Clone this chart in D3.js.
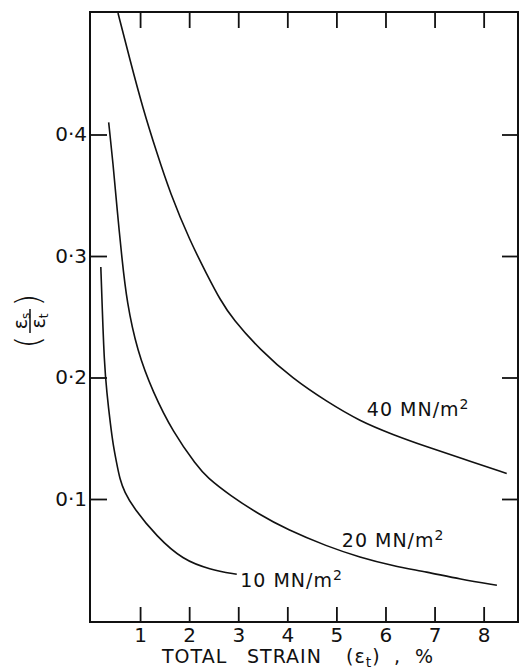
<!DOCTYPE html>
<meta charset="utf-8">
<head>
<style>
  body { margin: 0; background: #fff; }
  text { font-family: "DejaVu Sans", sans-serif; fill: #111; }
  .curve { fill: none; stroke: #111; stroke-width: 1.6; }
  .frame { fill: none; stroke: #111; stroke-width: 2; }
  .tick line { stroke: #111; stroke-width: 1.8; }
  .domain { display: none; }
</style>
</head>
<body>
<svg width="519" height="669" id="svg1"></svg>
<script src="https://cdnjs.cloudflare.com/ajax/libs/d3/7.8.5/d3.min.js"></script>
<script>
// total strain (%) vs ratio eps_s / eps_t
const strain40 = [0.55, 0.79, 1.06, 1.34, 1.61, 2.02, 2.36, 2.63, 2.89, 3.44, 4.11, 4.81, 5.48, 6.15, 6.84, 7.58, 8.47];
const ratio40  = [0.500, 0.462, 0.421, 0.385, 0.352, 0.312, 0.285, 0.264, 0.248, 0.223, 0.199, 0.180, 0.164, 0.153, 0.143, 0.133, 0.121];

const strain20 = [0.36, 0.45, 0.53, 0.63, 0.73, 0.94, 1.26, 1.67, 2.16, 2.36, 2.83, 3.44, 3.99, 4.81, 5.48, 6.15, 6.84, 7.52, 8.27];
const ratio20  = [0.410, 0.376, 0.339, 0.298, 0.262, 0.222, 0.188, 0.155, 0.127, 0.118, 0.103, 0.087, 0.075, 0.061, 0.052, 0.045, 0.040, 0.034, 0.029];

const strain10 = [0.20, 0.23, 0.27, 0.32, 0.40, 0.45, 0.52, 0.59, 0.68, 0.86, 1.34, 1.87, 2.42, 2.97];
const ratio10  = [0.291, 0.256, 0.213, 0.188, 0.160, 0.145, 0.130, 0.116, 0.106, 0.093, 0.069, 0.050, 0.042, 0.038];

const curveNames = ["40", "20", "10"];
const labelStrain = [5.62, 5.11, 3.04];
const labelRatio  = [0.168, 0.0604, 0.0275];

const xTicks = [1, 2, 3, 4, 5, 6, 7, 8];
const yTicks = [0.1, 0.2, 0.3, 0.4];

const svg1 = d3.select('#svg1');

const x = d3.scaleLinear().domain([0, 8.7]).range([91, 518]);
const y = d3.scaleLinear().domain([0, 0.5]).range([620.5, 13]);

const fmt = d => d3.format('.1f')(d).replace('.', '\u00B7');

// frame
svg1.append('rect')
    .attr('class', 'frame')
    .attr('x', 90).attr('y', 12)
    .attr('width', 428).attr('height', 610);

// bottom ticks + labels
svg1.append('g')
    .attr('transform', 'translate(0,622)')
    .call(d3.axisBottom(x).tickValues(xTicks).tickSize(-15).tickPadding(6).tickFormat(d3.format('d')))
    .call(g => g.selectAll('text').attr('font-size', 20).attr('fill', '#111'));

// top ticks
svg1.append('g')
    .attr('transform', 'translate(0,12)')
    .call(d3.axisTop(x).tickValues(xTicks).tickSize(-16).tickFormat(''));

// left ticks + labels
svg1.append('g')
    .attr('transform', 'translate(90,0)')
    .call(d3.axisLeft(y).tickValues(yTicks).tickSize(-17).tickPadding(3).tickFormat(fmt))
    .call(g => g.selectAll('text').attr('font-size', 20).attr('fill', '#111'));

// right ticks
svg1.append('g')
    .attr('transform', 'translate(518,0)')
    .call(d3.axisRight(y).tickValues(yTicks).tickSize(-16).tickFormat(''));

// curves
const line = d3.line()
    .x(d => x(d[0]))
    .y(d => y(d[1]))
    .curve(d3.curveBasis);

const series = [
  d3.zip(strain40, ratio40),
  d3.zip(strain20, ratio20),
  d3.zip(strain10, ratio10)
];

svg1.selectAll('.curve')
    .data(series)
  .enter().append('path')
    .attr('class', 'curve')
    .attr('d', line);

// curve labels
curveNames.forEach((name, i) => {
  const t = svg1.append('text')
      .attr('x', x(labelStrain[i]))
      .attr('y', y(labelRatio[i]))
      .attr('font-size', 19)
      .attr('letter-spacing', 1)
      .style('white-space', 'pre');
  t.append('tspan').text(name + ' MN/m');
  t.append('tspan').attr('dy', -7).attr('font-size', 14).text('2');
});

// x axis title
const xt = svg1.append('text')
    .attr('y', 663)
    .attr('font-size', 19)
    .attr('letter-spacing', 1);
xt.append('tspan').attr('x', 162).text('TOTAL');
xt.append('tspan').attr('x', 247).text('STRAIN');
xt.append('tspan').attr('x', 346).text('(\u03B5');
xt.append('tspan').attr('dy', 4).attr('font-size', 14).text('t');
xt.append('tspan').attr('dy', -4).text(')');
xt.append('tspan').attr('x', 394).text(',');
xt.append('tspan').attr('x', 415).text('%');

// y axis title: (eps_s / eps_t) turned on its side
const yt = svg1.append('g')
    .attr('transform', 'translate(30,321) rotate(-90)');

yt.append('line')
    .attr('x1', -12).attr('x2', 12)
    .attr('y1', 0).attr('y2', 0)
    .attr('stroke', '#111').attr('stroke-width', 1.5);

const num = yt.append('text')
    .attr('x', 0).attr('y', -3)
    .attr('text-anchor', 'middle')
    .attr('font-size', 19);
num.append('tspan').text('\u03B5');
num.append('tspan').attr('dy', 3).attr('font-size', 12).text('s');

const den = yt.append('text')
    .attr('x', 0).attr('y', 15)
    .attr('text-anchor', 'middle')
    .attr('font-size', 19);
den.append('tspan').text('\u03B5');
den.append('tspan').attr('dy', 3).attr('font-size', 12).text('t');

yt.append('text')
    .attr('x', -21).attr('y', 10)
    .attr('text-anchor', 'middle')
    .attr('font-size', 33)
    .attr('font-weight', 300)
    .text('(');

yt.append('text')
    .attr('x', 21).attr('y', 10)
    .attr('text-anchor', 'middle')
    .attr('font-size', 33)
    .attr('font-weight', 300)
    .text(')');
</script>
</body>
